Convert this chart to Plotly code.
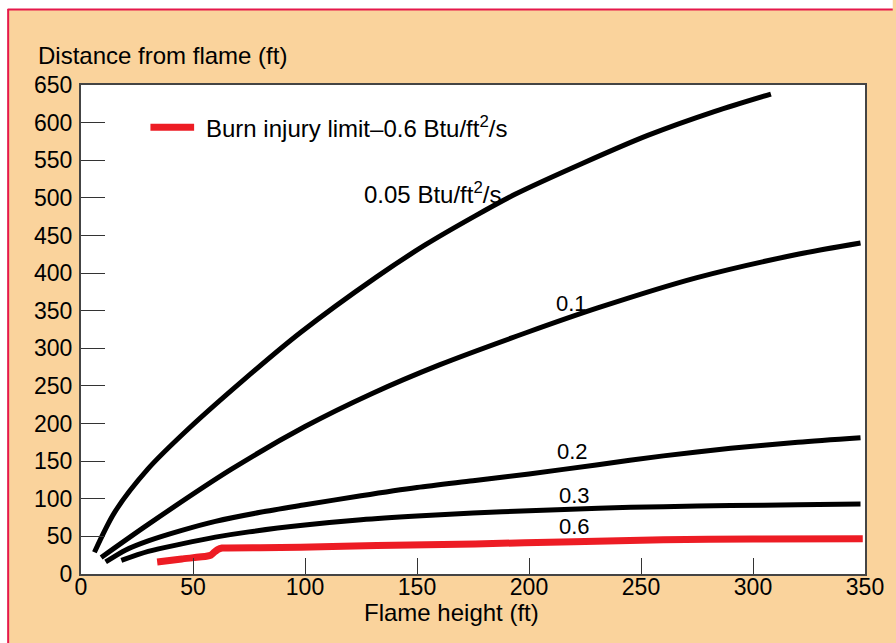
import plotly.graph_objects as go

# ---- data ----
x_005 = [6, 15, 30, 48, 73, 98, 132, 154, 176, 194, 224, 253, 283, 308]
y_005 = [29, 82, 140, 193, 259, 321, 395, 438, 476, 505, 546, 583, 615, 638]

x_01 = [9, 30, 67, 100, 130, 160, 199, 231, 275, 320, 348]
y_01 = [22, 66, 139, 196, 240, 278, 321, 354, 394, 425, 440]

x_02 = [11, 20, 30, 45, 60, 80, 100, 125, 150, 175, 200, 230, 260, 290, 320, 348]
y_02 = [16, 32, 44, 58, 70, 82, 92, 104, 115, 124, 133, 145, 157, 167, 175, 181]

x_03 = [18, 30, 45, 60, 75, 100, 125, 150, 175, 200, 231, 260, 290, 320, 348]
y_03 = [18, 30, 40, 49, 56, 65, 72, 77, 81, 84, 87.5, 89.5, 91, 92, 93]

x_06 = [34, 45, 56, 58, 59.5, 61, 63, 80, 98, 117, 147, 176, 220, 260, 300, 349]
y_06 = [16, 20, 23.5, 25, 29, 32.5, 34.5, 35, 35.5, 37, 38.5, 40, 43, 45.5, 46.5, 47]

x_ticks = [0, 50, 100, 150, 200, 250, 300, 350]
y_ticks = [0, 50, 100, 150, 200, 250, 300, 350, 400, 450, 500, 550, 600, 650]

curve_labels = ["0.05 Btu/ft<sup>2</sup>/s", "0.1", "0.2", "0.3", "0.6"]
label_sizes = [24, 22, 22, 22, 22]
label_x = [157, 219, 219.5, 220.5, 220.5]
label_y = [506, 359, 163, 104, 63]

legend_text = "Burn injury limit\u20130.6 Btu/ft<sup>2</sup>/s"
legend_line_x = [31, 50.5]
legend_y = 594
legend_text_x = 55

x_title = "Flame height (ft)"
y_title = "Distance from flame (ft)"

FONT = "Liberation Sans, Arial, Helvetica, sans-serif"
PEACH = "#FAD39C"
RED = "#ED1C24"
BORDER = "#E5194B"

fig = go.Figure()
for xs, ys in [(x_005, y_005), (x_01, y_01), (x_02, y_02), (x_03, y_03)]:
    fig.add_trace(go.Scatter(x=xs, y=ys, mode="lines",
                             line=dict(color="black", width=5, shape="spline", smoothing=0.8),
                             showlegend=False, hoverinfo="skip"))
fig.add_trace(go.Scatter(x=x_06, y=y_06, mode="lines",
                         line=dict(color=RED, width=7, shape="spline", smoothing=0.4),
                         showlegend=False, hoverinfo="skip"))
# legend sample line
fig.add_trace(go.Scatter(x=legend_line_x, y=[legend_y, legend_y], mode="lines",
                         line=dict(color=RED, width=7), showlegend=False, hoverinfo="skip"))

annotations = []
for t, s, lx, ly in zip(curve_labels, label_sizes, label_x, label_y):
    annotations.append(dict(x=lx, y=ly, xref="x", yref="y", text=t, showarrow=False,
                            font=dict(size=s, color="black", family=FONT),
                            xanchor="center", yanchor="middle"))
annotations.append(dict(x=legend_text_x, y=legend_y, xref="x", yref="y", text=legend_text, showarrow=False,
                        font=dict(size=24, color="black", family=FONT), xanchor="left", yanchor="middle"))


def px2x(p):
    return (p - 81) / 791


def py2y(p):
    return (574 - p) / 489


annotations.append(dict(x=px2x(36), y=py2y(56), xref="paper", yref="paper", text=y_title,
                        showarrow=False, font=dict(size=24, color="black", family=FONT),
                        xanchor="left", yanchor="middle"))
annotations.append(dict(x=px2x(455), y=py2y(612), xref="paper", yref="paper", text=x_title,
                        showarrow=False, font=dict(size=24, color="black", family=FONT),
                        xanchor="center", yanchor="middle"))

shapes = [
    dict(type="rect", xref="paper", yref="paper", x0=px2x(-5), x1=px2x(900), y0=py2y(9.5), y1=py2y(-5),
         fillcolor="white", line=dict(width=0), layer="below"),
    dict(type="rect", xref="paper", yref="paper", x0=px2x(-5), x1=px2x(7.5), y0=py2y(650), y1=py2y(-5),
         fillcolor="white", line=dict(width=0), layer="below"),
    dict(type="line", xref="paper", yref="paper", x0=px2x(7), x1=px2x(900), y0=py2y(9.5), y1=py2y(9.5),
         line=dict(color=BORDER, width=2)),
    dict(type="line", xref="paper", yref="paper", x0=px2x(7.5), x1=px2x(7.5), y0=py2y(9), y1=py2y(650),
         line=dict(color=BORDER, width=2)),
]

fig.update_layout(
    width=896, height=643,
    margin=dict(l=81, r=24, t=85, b=69),
    paper_bgcolor=PEACH, plot_bgcolor="white",
    font=dict(family=FONT, size=23, color="black"),
    annotations=annotations, shapes=shapes,
    showlegend=False,
)
fig.update_xaxes(range=[0, 350], tickvals=x_ticks, ticks="inside", ticklen=16, tickwidth=1, tickcolor="#333",
                 showline=True, linecolor="#444", linewidth=2, mirror=True, showgrid=False, zeroline=False,
                 tickfont=dict(size=23), ticklabelstandoff=-9, fixedrange=True)
fig.update_yaxes(range=[0, 650], tickvals=y_ticks, ticks="inside", ticklen=24, tickwidth=1, tickcolor="#333",
                 showline=True, linecolor="#444", linewidth=2, mirror=True, showgrid=False, zeroline=False,
                 tickfont=dict(size=23), ticklabelstandoff=2, fixedrange=True)

fig.write_html("out.html", config={"displayModeBar": False},
               post_script="document.body.style.margin='0';document.body.style.overflow='hidden';")
